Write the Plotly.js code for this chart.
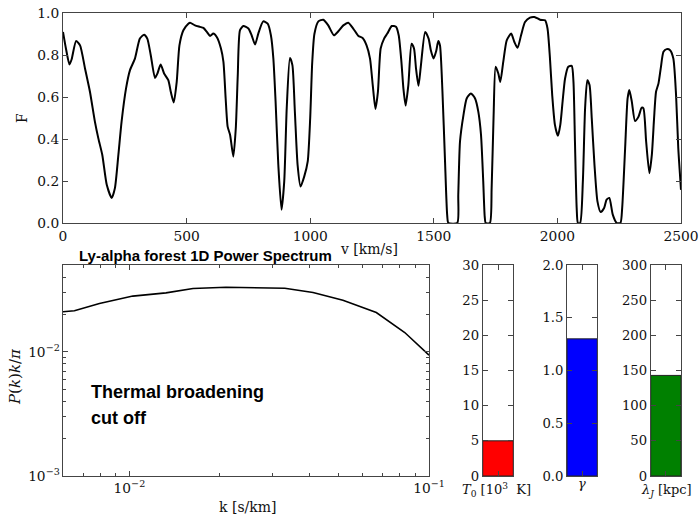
<!DOCTYPE html>
<html><head><meta charset="utf-8">
<script src="https://cdn.plot.ly/plotly-3.0.1.min.js"></script>
<style>html,body{margin:0;padding:0;background:#fff}#c{width:699px;height:516px}</style>
</head><body><div id="c"></div>
<script>
// ---- data ----
const velocity = [0,12,26,35,53,69,89,109,129,143,159,177,197,210,224,237,255,271,291,311,328,341,355,372,382,395,409,426,436,448,460,471,487,507,
514,534,554,568,582,595,608,622,639,649,658,666,676,689,699,707,716,730,750,763,777,790,810,828,841,851,860,871,884,895,905,918,928,938,949,961,976,990,
1000,1008,1017,1033,1053,1073,1096,1114,1134,1154,1174,1195,1212,1228,1242,1253,1264,1274,1285,1299,1312,1330,1347,1358,1369,1377,1386,1397,1410,1420,1428,1438,1448,1465,1479,1488,1499,1510,1518,1525,1535,1545,1554,1559,1595,1599,1606,1620,1633,1650,1667,1680,1691,1700,1706,1710,1727,1734,1742,1750,1761,1769,1781,1795,1813,1826,1839,1853,1869,1889,1907,1930,1950,1960,1970,1979,1990,2002,2012,2021,2031,2044,2058,2065,2071,2078,2083,2092,2103,2112,2121,2130,2139,2150,2162,2175,2189,2199,2210,2224,2240,2255,2262,2274,2284,2291,2301,2314,2328,2341,2348,2359,2372,2382,2391,2399,2409,2418,2429,2442,2456,2469,2480,2489,2500];
const flux = [0.91,0.83,0.755,0.78,0.867,0.846,0.736,0.625,0.483,0.403,0.324,0.182,0.119,0.166,0.324,0.483,0.641,0.728,0.783,0.878,0.897,0.878,0.799,0.691,0.712,0.755,0.712,0.680,0.625,0.574,0.672,0.846,0.918,0.949,
0.954,0.941,0.934,0.929,0.91,0.891,0.902,0.886,0.831,0.767,0.593,0.459,0.419,0.316,0.451,0.704,0.918,0.938,0.926,0.894,0.850,0.902,0.960,0.949,0.894,0.783,0.578,0.277,0.063,0.198,0.546,0.786,0.752,0.530,0.277,0.174,0.222,0.293,
0.50,0.76,0.90,0.960,0.968,0.941,0.894,0.913,0.941,0.954,0.926,0.891,0.881,0.846,0.783,0.657,0.543,0.625,0.831,0.878,0.902,0.938,0.934,0.894,0.767,0.641,0.559,0.657,0.854,0.831,0.736,0.653,0.752,0.910,0.878,0.823,0.783,0.82,0.867,0.846,0.625,0.309,0.04,0,0,0.134,0.388,0.514,0.593,0.617,0.593,0.530,0.419,0.198,0.03,0,0,0.166,0.514,0.744,0.712,0.672,0.767,0.870,0.902,0.862,0.834,0.894,0.957,0.978,0.981,0.968,0.965,0.926,0.783,0.609,0.467,0.415,0.47,0.578,0.688,0.744,0.748,0.672,0.388,0.071,0,0,0.198,0.546,0.680,0.657,0.498,0.277,0.103,0.052,0.071,0.111,0.119,0.040,0,0,0.071,0.356,0.593,0.633,0.578,0.486,0.506,0.549,0.546,0.388,0.237,0.324,0.498,0.625,0.665,0.736,0.815,0.828,0.823,0.783,0.609,0.356,0.158];

const kValues = [0.00598,0.00655,0.00794,0.01026,0.01324,0.0163,0.0210,0.0252,0.0330,0.0410,0.0516,0.0667,0.0830,0.1];
const powerValues = [0.0210,0.0214,0.0245,0.0281,0.0298,0.0323,0.0331,0.0327,0.0325,0.0300,0.0260,0.0207,0.0143,0.0094];

const barNames = ['T0','gamma','lambdaJ'];
const barValues = [5, 1.3, 143];
const barColors = ['#ff0000','#0000ff','#008000'];
const barRanges = [[0,30],[0,2],[0,300]];
const barDticks = [5,0.5,50];

// ---- layout helpers ----
const W = 699, H = 516;
const px = x => x / W;
const py = y => 1 - y / H;
const serif = 'DejaVu Serif, serif';
const axCol = '#444';
const tickFont = {family: serif, size: 13.8, color: '#111'};
const barTickFont = {family: serif, size: 13.2, color: '#111'};
const logTickFont = {family: serif, size: 11, color: '#111'};

function baseAxis(extra) {
  return Object.assign({
    showline: true, linecolor: axCol, linewidth: 1, mirror: 'allticks',
    ticks: 'inside', ticklen: 5, tickcolor: axCol, tickwidth: 1,
    showgrid: false, zeroline: false, tickfont: tickFont, fixedrange: true
  }, extra);
}

const traces = [
  {x: velocity, y: flux, type: 'scatter', mode: 'lines', xaxis: 'x', yaxis: 'y',
   line: {color: '#000', width: 2, shape: 'spline', smoothing: 0.6}, hoverinfo: 'skip'},
  {x: kValues, y: powerValues, type: 'scatter', mode: 'lines', xaxis: 'x2', yaxis: 'y2',
   line: {color: '#000', width: 1.6}, hoverinfo: 'skip'}
];
barValues.forEach((v, i) => {
  traces.push({x: [0], y: [v], type: 'bar', width: 1, name: barNames[i],
    xaxis: 'x' + (i + 3), yaxis: 'y' + (i + 3),
    marker: {color: barColors[i], line: {color: '#222', width: 1}}, hoverinfo: 'skip'});
});

const layout = {
  width: W, height: H, margin: {l: 0, r: 0, t: 0, b: 0},
  paper_bgcolor: '#fff', plot_bgcolor: '#fff', showlegend: false,
  xaxis: baseAxis({domain: [px(63), px(681)], range: [0, 2500], dtick: 500, anchor: 'y'}),
  yaxis: baseAxis({domain: [py(223), py(13)], range: [0, 1], dtick: 0.2, tickformat: '.1f', anchor: 'x'}),
  xaxis2: baseAxis({domain: [px(63), px(429)], type: 'log', range: [Math.log10(0.006), -1], dtick: 1,
    exponentformat: 'power', tickfont: logTickFont, anchor: 'y2',
    minor: {ticks: 'inside', ticklen: 3, tickcolor: axCol, showgrid: false}}),
  yaxis2: baseAxis({domain: [py(476), py(265)], type: 'log', range: [-3, Math.log10(0.05)], dtick: 1,
    exponentformat: 'power', tickfont: logTickFont, anchor: 'x2',
    minor: {ticks: 'inside', ticklen: 3, tickcolor: axCol, showgrid: false}}),
  annotations: []
};
const barX = [[482.7, 513.3], [567, 597.3], [650.7, 681]];
for (let i = 0; i < 3; i++) {
  layout['xaxis' + (i + 3)] = baseAxis({domain: [px(barX[i][0]), px(barX[i][1])], range: [-0.5, 0.5],
    tickvals: [0], showticklabels: false, anchor: 'y' + (i + 3)});
  layout['yaxis' + (i + 3)] = baseAxis({domain: [py(476), py(265)], range: barRanges[i], dtick: barDticks[i],
    tickformat: i === 1 ? '.1f' : '', tickfont: barTickFont, anchor: 'x' + (i + 3)});
}

function ann(text, x, y, font, extra) {
  layout.annotations.push(Object.assign({text: text, x: px(x), y: py(y), xref: 'paper', yref: 'paper',
    showarrow: false, xanchor: 'center', yanchor: 'middle', font: font}, extra || {}));
}
const labFont = {family: serif, size: 14, color: '#111'};
ann('v [km/s]', 369, 249, labFont);
ann('F', 22, 118, labFont, {textangle: -90});
ann('k [s/km]', 248, 507, labFont);
ann('<i>P</i>(<i>k</i>)<i>k</i>/<i>π</i>', 15, 377, {family: serif, size: 15, color: '#111'}, {textangle: -90});
ann('<b>Ly-alpha forest 1D Power Spectrum</b>', 205.5, 255, {family: 'Liberation Sans, Arial, sans-serif', size: 15, color: '#000'});
ann('<b>Thermal broadening</b>', 89, 392, {family: 'Liberation Sans, Arial, sans-serif', size: 18, color: '#000'}, {xanchor: 'left'});
ann('<b>cut off</b>', 89, 418, {family: 'Liberation Sans, Arial, sans-serif', size: 18, color: '#000'}, {xanchor: 'left'});
ann('<i>T</i><sub>0</sub> [10<sup>3</sup>  K]', 496, 490, {family: serif, size: 13, color: '#111'});
ann('<i>γ</i>', 582, 483, {family: serif, size: 13, color: '#111'});
ann('<i>λ</i><sub><i>J</i></sub> [kpc]', 666, 490, {family: serif, size: 13, color: '#111'});

Plotly.newPlot('c', traces, layout, {staticPlot: true, displayModeBar: false});
</script></body></html>
